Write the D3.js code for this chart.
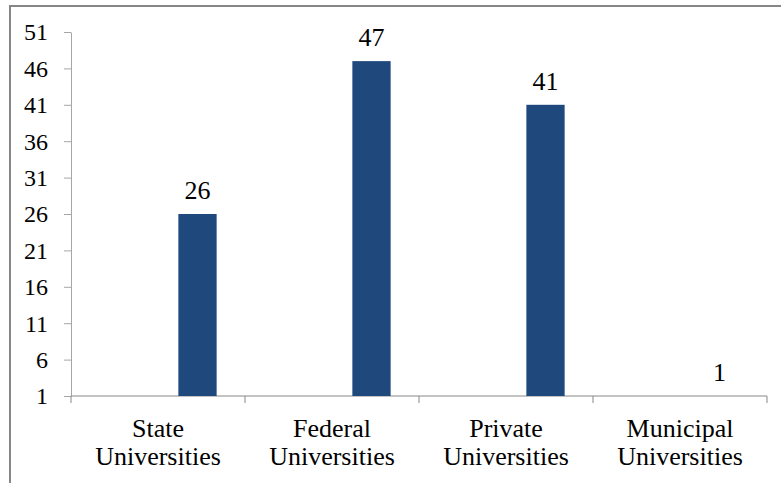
<!DOCTYPE html>
<html><head><meta charset="utf-8">
<script src="https://cdn.jsdelivr.net/npm/d3@7"></script>
<style>html,body{margin:0;padding:0;background:#fff;font-family:"Liberation Serif",serif;}svg{display:block;font-family:"Liberation Serif",serif;}
svg text, .tn{font-family:"Liberation Serif",serif !important;}</style>
</head><body>
<script>
const categories = [["State","Universities"],["Federal","Universities"],["Private","Universities"],["Municipal","Universities"]];
const values = [26, 47, 41, 1];
const tickValues = [1, 6, 11, 16, 21, 26, 31, 36, 41, 46, 51];

const W = 781, H = 483;
const FF = '"Liberation Serif", serif';
const svg = d3.select("body").append("svg").attr("width", W).attr("height", H)
  .style("font-family", FF);

// frame
svg.append("path").attr("d", `M10,${H+2} L10,6 L${W+2},6`).attr("fill","none").attr("stroke","#878787").attr("stroke-width",2);

const x0 = 71, x1 = 767, yTop = 32, yBot = 396;
const keys = categories.map((c,i)=>i);
const x = d3.scaleBand().domain(keys).range([x0, x1]).padding(0);
const y = d3.scaleLinear().domain([1, 51]).range([yBot, yTop]);

// y axis
const yAxis = svg.append("g").attr("transform", `translate(${x0},0)`)
  .call(d3.axisLeft(y).tickValues(tickValues).tickSize(7).tickPadding(16).tickSizeOuter(0));
yAxis.attr("font-family", FF).attr("font-size", 24);
yAxis.select(".domain").attr("stroke","#a6a6a6");
yAxis.selectAll(".tick line").attr("stroke","#a6a6a6");
yAxis.selectAll(".tick text").attr("class","tn").attr("font-family", FF).style("font-family", FF)
  .attr("font-size",24).attr("fill","#000").attr("dy","0.33em");

// x axis
const xa = svg.append("g").attr("transform", `translate(0,${yBot})`);
xa.append("line").attr("x1",x0).attr("x2",x1).attr("y1",0).attr("y2",0).attr("stroke","#888");
const bounds = keys.map(k=>x(k)).concat([x(keys[keys.length-1]) + x.bandwidth()]);
xa.selectAll("line.t").data(bounds).join("line").attr("class","t")
  .attr("x1",d=>d).attr("x2",d=>d).attr("y1",0).attr("y2",7).attr("stroke","#888");

// category labels (two lines each)
const lab = svg.append("g").attr("font-family", FF);
categories.forEach((c,i)=>{
  const cx = x(i) + x.bandwidth()/2;
  c.forEach((line,j)=>lab.append("text").attr("class","tn").attr("font-family", FF).style("font-family", FF)
    .attr("x",cx).attr("y",437 + j*28)
    .attr("text-anchor","middle").attr("font-size",26).attr("fill","#000").text(line));
});

// bars (third slot of a clustered group)
const bw = x.bandwidth();
const barX = i => x(i) + bw*0.617;
const barW = bw*0.22;
svg.append("g").selectAll("rect").data(values).join("rect")
  .attr("x",(d,i)=>barX(i)).attr("width",barW)
  .attr("y",d=>y(d)).attr("height",d=>yBot - y(d))
  .attr("fill","#1F497D");

// data labels
svg.append("g").attr("font-family", FF).selectAll("text").data(values).join("text").attr("class","tn")
  .attr("font-family", FF).style("font-family", FF)
  .attr("x",(d,i)=>barX(i)+barW/2).attr("y",d=>y(d)-15)
  .attr("text-anchor","middle").attr("font-size",26).attr("fill","#000")
  .text(d=>d);
</script>
</body></html>
